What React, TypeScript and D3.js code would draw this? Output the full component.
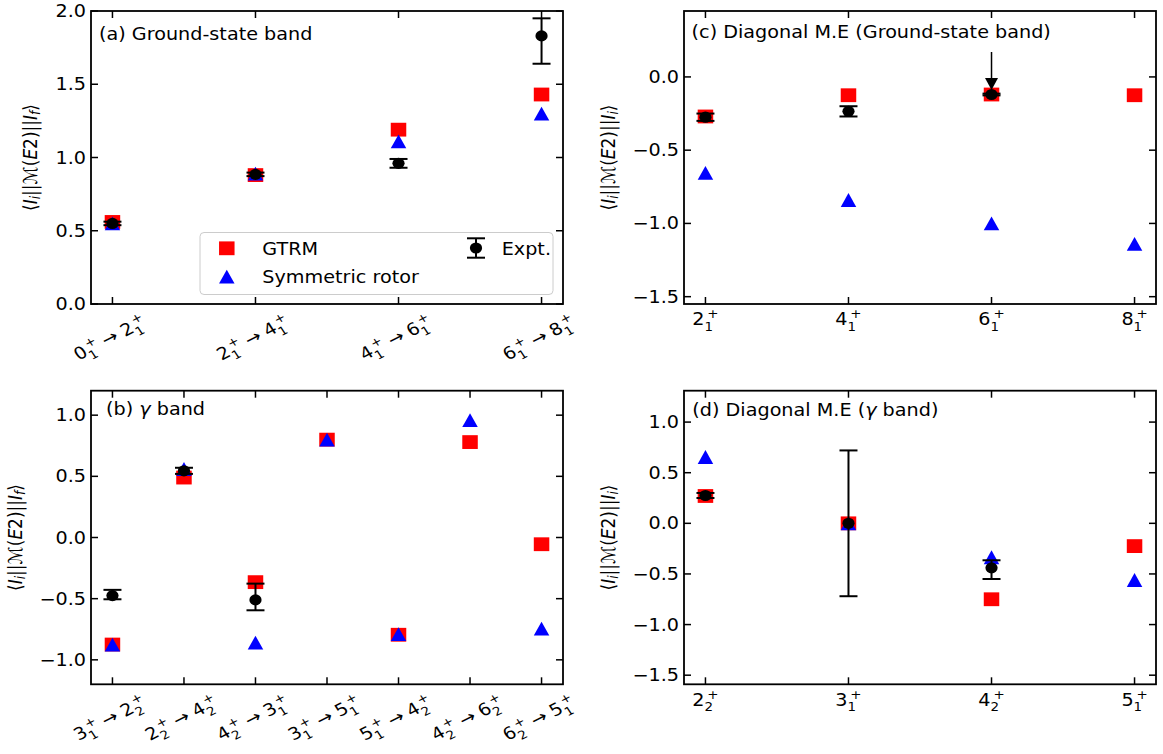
import React from "react";
import * as d3 from "d3";

// ---------- data ----------
// (a) ground-state band transitions: [Ii, index_i, If, index_f]
const gsTransitions: [string, string, string, string][] = [
  ["0", "1", "2", "1"],
  ["2", "1", "4", "1"],
  ["4", "1", "6", "1"],
  ["6", "1", "8", "1"],
];
const gsTransGTRM = [0.56, 0.88, 1.19, 1.43];
const gsTransRotor = [0.55, 0.89, 1.11, 1.3];
const gsTransExptIdx = [0, 1, 2, 3];
const gsTransExpt = [0.55, 0.885, 0.96, 1.83];
const gsTransExptLo = [0.012, 0.012, 0.03, 0.19];
const gsTransExptHi = [0.012, 0.012, 0.03, 0.12];

// (b) gamma band transitions
const gTransitions: [string, string, string, string][] = [
  ["3", "1", "2", "2"],
  ["2", "2", "4", "2"],
  ["4", "2", "3", "1"],
  ["3", "1", "5", "1"],
  ["5", "1", "4", "2"],
  ["4", "2", "6", "2"],
  ["6", "2", "5", "1"],
];
const gTransGTRM = [-0.875, 0.49, -0.365, 0.8, -0.795, 0.78, -0.055];
const gTransRotor = [-0.875, 0.56, -0.86, 0.8, -0.79, 0.96, -0.745];
const gTransExptIdx = [0, 1, 2];
const gTransExpt = [-0.475, 0.545, -0.51];
const gTransExptLo = [0.03, 0.025, 0.085];
const gTransExptHi = [0.047, 0.025, 0.133];

// (c) diagonal matrix elements, ground-state band
const gsStates: [string, string][] = [["2", "1"], ["4", "1"], ["6", "1"], ["8", "1"]];
const gsDiagGTRM = [-0.27, -0.125, -0.12, -0.125];
const gsDiagRotor = [-0.655, -0.84, -1.0, -1.14];
const gsDiagExptIdx = [0, 1, 2];
const gsDiagExpt = [-0.275, -0.235, -0.12];
const gsDiagExptLo = [0.025, 0.035, 0.006];
const gsDiagExptHi = [0.025, 0.035, 0.006];
const gsDiagArrow = { index: 2, from: 0.17, to: -0.09 };

// (d) diagonal matrix elements, gamma band
const gStates: [string, string][] = [["2", "2"], ["3", "1"], ["4", "2"], ["5", "1"]];
const gDiagGTRM = [0.27, 0.0, -0.75, -0.225];
const gDiagRotor = [0.655, 0.0, -0.335, -0.56];
const gDiagExptIdx = [0, 1, 2];
const gDiagExpt = [0.275, 0.0, -0.44];
const gDiagExptLo = [0.025, 0.72, 0.11];
const gDiagExptHi = [0.025, 0.72, 0.075];

const ticksA = [0, 0.5, 1.0, 1.5, 2.0];
const ticksB = [-1.0, -0.5, 0.0, 0.5, 1.0];
const ticksC = [-1.5, -1.0, -0.5, 0.0];
const ticksD = [-1.5, -1.0, -0.5, 0.0, 0.5, 1.0];

// ---------- style ----------
const SX = 1.13; // horizontal aspect of glyphs and markers
const FONT = "'DejaVu Sans', sans-serif";
const F = 17;
const SF = 11.9;
const DIGIT = 0.636 * F;
const STATE_W = DIGIT + 2.5 + 0.838 * SF;
const ARROW_W = 0.838 * F;
const GAP = 5;
const RED = "#ff0000";
const BLUE = "#0000ff";
const SQ_W = 15.5;
const SQ_H = 13.8;
const TICK = 7;

const fmt = (v: number) => d3.format(".1f")(v).replace("-", "\u2212");

function stateParts(base: string, sub: string, x0: number, B: number, key: string) {
  return [
    <text key={key + "b"} x={x0} y={B} fontSize={F}>{base}</text>,
    <text key={key + "s"} x={x0 + DIGIT} y={B + 5.4} fontSize={SF}>{sub}</text>,
    <text key={key + "p"} x={x0 + DIGIT + 2.5} y={B - 7} fontSize={SF}>+</text>,
  ];
}

function TransitionLabel({ cx, cy, t }: { cx: number; cy: number; t: [string, string, string, string] }) {
  const W = 2 * STATE_W + 2 * GAP + ARROW_W;
  const x0 = -W / 2;
  const B = 4.6;
  return (
    <g transform={`translate(${cx},${cy}) scale(${SX},1) rotate(-30)`}>
      {stateParts(t[0], t[1], x0, B, "i")}
      <text x={x0 + STATE_W + GAP} y={B} fontSize={F}>→</text>
      {stateParts(t[2], t[3], x0 + STATE_W + 2 * GAP + ARROW_W, B, "f")}
    </g>
  );
}

function StateLabel({ cx, B, s }: { cx: number; B: number; s: [string, string] }) {
  return (
    <g transform={`translate(${cx},${B}) scale(${SX},1)`}>
      {stateParts(s[0], s[1], -STATE_W / 2, 0, "s")}
    </g>
  );
}

function Square({ x, y }: { x: number; y: number }) {
  return <rect x={x - SQ_W / 2} y={y - SQ_H / 2} width={SQ_W} height={SQ_H} fill={RED} />;
}
function Triangle({ x, y }: { x: number; y: number }) {
  const p = d3.path();
  p.moveTo(x, y - SQ_H / 2);
  p.lineTo(x + SQ_W / 2, y + SQ_H / 2);
  p.lineTo(x - SQ_W / 2, y + SQ_H / 2);
  p.closePath();
  return <path d={p.toString()} fill={BLUE} />;
}
function ErrPoint({ x, y, yHi, yLo }: { x: number; y: number; yHi: number; yLo: number }) {
  const cap = 9;
  return (
    <g stroke="#000" strokeWidth={2}>
      <line x1={x} x2={x} y1={yHi} y2={yLo} />
      <line x1={x - cap} x2={x + cap} y1={yHi} y2={yHi} />
      <line x1={x - cap} x2={x + cap} y1={yLo} y2={yLo} />
      <ellipse cx={x} cy={y} rx={6.1} ry={5.6} fill="#000" stroke="none" />
    </g>
  );
}

function YLabel({ x, y, last }: { x: number; y: number; last: string }) {
  return (
    <text transform={`translate(${x},${y}) scale(${SX},1) rotate(-90)`} textAnchor="middle" fontSize={17}>
      <tspan>⟨</tspan>
      <tspan fontStyle="italic">I</tspan>
      <tspan fontStyle="italic" fontSize={12} dy={3}>i</tspan>
      <tspan dy={-3}>||</tspan>
      <tspan>ℳ</tspan>
      <tspan>(</tspan>
      <tspan fontStyle="italic">E</tspan>
      <tspan>2)||</tspan>
      <tspan fontStyle="italic">I</tspan>
      <tspan fontStyle="italic" fontSize={12} dy={3}>{last}</tspan>
      <tspan dy={-3}>⟩</tspan>
    </text>
  );
}

type PanelProps = {
  x0: number; x1: number; y0: number; y1: number;
  n: number;
  yDomain: [number, number];
  yTicks: number[];
  gtrm: number[];
  rotor: number[];
  exptIdx: number[];
  expt: number[];
  exptLo: number[];
  exptHi: number[];
  title: React.ReactNode;
  titleX: number;
  titleY: number;
  ylabelX: number;
  ylabelLast: string;
  xLabels: (xs: d3.ScaleLinear<number, number>) => React.ReactNode;
  extra?: (xs: d3.ScaleLinear<number, number>, ys: d3.ScaleLinear<number, number>) => React.ReactNode;
};

function Panel(p: PanelProps) {
  const m = 0.05 * (p.n - 1);
  const xs = d3.scaleLinear().domain([-m, p.n - 1 + m]).range([p.x0, p.x1]);
  const ys = d3.scaleLinear().domain(p.yDomain).range([p.y1, p.y0]);
  const idx = d3.range(p.n);
  return (
    <g>
      {/* ticks, pointing inward on all four sides */}
      <g stroke="#000" strokeWidth={1.5}>
        {p.yTicks.map((t) => (
          <g key={"yt" + t}>
            <line x1={p.x0} x2={p.x0 + TICK} y1={ys(t)} y2={ys(t)} />
            <line x1={p.x1} x2={p.x1 - TICK} y1={ys(t)} y2={ys(t)} />
          </g>
        ))}
        {idx.map((i) => (
          <g key={"xt" + i}>
            <line x1={xs(i)} x2={xs(i)} y1={p.y1} y2={p.y1 - TICK} />
            <line x1={xs(i)} x2={xs(i)} y1={p.y0} y2={p.y0 + TICK} />
          </g>
        ))}
      </g>
      {p.yTicks.map((t) => (
        <text key={"yl" + t} transform={`translate(${p.x0 - 5},${ys(t) + 6}) scale(${SX},1)`} textAnchor="end" fontSize={F}>
          {fmt(t)}
        </text>
      ))}
      {p.xLabels(xs)}
      {p.gtrm.map((v, i) => <Square key={"g" + i} x={xs(i)} y={ys(v)} />)}
      {p.rotor.map((v, i) => <Triangle key={"r" + i} x={xs(i)} y={ys(v)} />)}
      {p.exptIdx.map((k, j) => (
        <ErrPoint key={"e" + j} x={xs(k)} y={ys(p.expt[j])} yHi={ys(p.expt[j] + p.exptHi[j])} yLo={ys(p.expt[j] - p.exptLo[j])} />
      ))}
      {p.extra ? p.extra(xs, ys) : null}
      <rect x={p.x0} y={p.y0} width={p.x1 - p.x0} height={p.y1 - p.y0} fill="none" stroke="#000" strokeWidth={1.8} />
      <text transform={`translate(${p.titleX},${p.titleY}) scale(${SX},1)`} fontSize={F}>{p.title}</text>
      <YLabel x={p.ylabelX} y={(p.y0 + p.y1) / 2} last={p.ylabelLast} />
    </g>
  );
}

function Legend() {
  return (
    <g>
      <rect x={200} y={232.5} width={353} height={62} rx={4} fill="#fff" fillOpacity={0.8} stroke="#cccccc" strokeWidth={1} />
      <Square x={226.8} y={248.3} />
      <Triangle x={226.8} y={276.7} />
      <ErrPoint x={476} y={248} yHi={238.3} yLo={257.7} />
      <text transform={`translate(262.3,255) scale(${SX},1)`} fontSize={F}>GTRM</text>
      <text transform={`translate(262.3,283.3) scale(${SX},1)`} fontSize={F}>Symmetric rotor</text>
      <text transform={`translate(501.7,255) scale(${SX},1)`} fontSize={F}>Expt.</text>
    </g>
  );
}

export default function App() {
  const top = { y0: 11, y1: 304 };
  const bot = { y0: 390.7, y1: 684.3 };
  const left = { x0: 91, x1: 563 };
  const right = { x0: 684, x1: 1156 };
  return (
    <svg width={1163} height={754} style={{ position: "fixed", left: 0, top: 0, background: "#fff" }} fontFamily={FONT} fill="#000">
      <Panel
        {...left} {...top} n={4} yDomain={[0, 2.0]} yTicks={ticksA}
        gtrm={gsTransGTRM} rotor={gsTransRotor}
        exptIdx={gsTransExptIdx} expt={gsTransExpt} exptLo={gsTransExptLo} exptHi={gsTransExptHi}
        title="(a) Ground-state band" titleX={99} titleY={40}
        ylabelX={36.5} ylabelLast="f"
        xLabels={(xs) => gsTransitions.map((t, i) => <TransitionLabel key={i} cx={xs(i) - 2} cy={top.y1 + 35} t={t} />)}
        extra={() => <Legend />}
      />
      <Panel
        {...left} {...bot} n={7} yDomain={[-1.2, 1.2]} yTicks={ticksB}
        gtrm={gTransGTRM} rotor={gTransRotor}
        exptIdx={gTransExptIdx} expt={gTransExpt} exptLo={gTransExptLo} exptHi={gTransExptHi}
        title={<>(b) <tspan fontStyle="italic">γ</tspan> band</>} titleX={106} titleY={415}
        ylabelX={21.5} ylabelLast="f"
        xLabels={(xs) => gTransitions.map((t, i) => <TransitionLabel key={i} cx={xs(i) - 2} cy={bot.y1 + 35} t={t} />)}
      />
      <Panel
        {...right} {...top} n={4} yDomain={[-1.55, 0.45]} yTicks={ticksC}
        gtrm={gsDiagGTRM} rotor={gsDiagRotor}
        exptIdx={gsDiagExptIdx} expt={gsDiagExpt} exptLo={gsDiagExptLo} exptHi={gsDiagExptHi}
        title="(c) Diagonal M.E (Ground-state band)" titleX={691.6} titleY={37.5}
        ylabelX={614.5} ylabelLast="i"
        xLabels={(xs) => gsStates.map((s, i) => <StateLabel key={i} cx={xs(i)} B={top.y1 + 21.3} s={s} />)}
        extra={(xs, ys) => {
          const x = xs(gsDiagArrow.index);
          const yA = ys(gsDiagArrow.from);
          const yB = ys(gsDiagArrow.to);
          const head = 12;
          return (
            <g>
              <line x1={x} x2={x} y1={yA} y2={yB - head + 1} stroke="#000" strokeWidth={1.5} />
              <path d={`M${x},${yB} L${x - 6.5},${yB - head} L${x + 6.5},${yB - head} Z`} fill="#000" />
            </g>
          );
        }}
      />
      <Panel
        {...right} {...bot} n={4} yDomain={[-1.59, 1.31]} yTicks={ticksD}
        gtrm={gDiagGTRM} rotor={gDiagRotor}
        exptIdx={gDiagExptIdx} expt={gDiagExpt} exptLo={gDiagExptLo} exptHi={gDiagExptHi}
        title={<>(d) Diagonal M.E (<tspan fontStyle="italic">γ</tspan> band)</>} titleX={692.3} titleY={416}
        ylabelX={614.5} ylabelLast="i"
        xLabels={(xs) => gStates.map((s, i) => <StateLabel key={i} cx={xs(i)} B={bot.y1 + 21.3} s={s} />)}
      />
    </svg>
  );
}
